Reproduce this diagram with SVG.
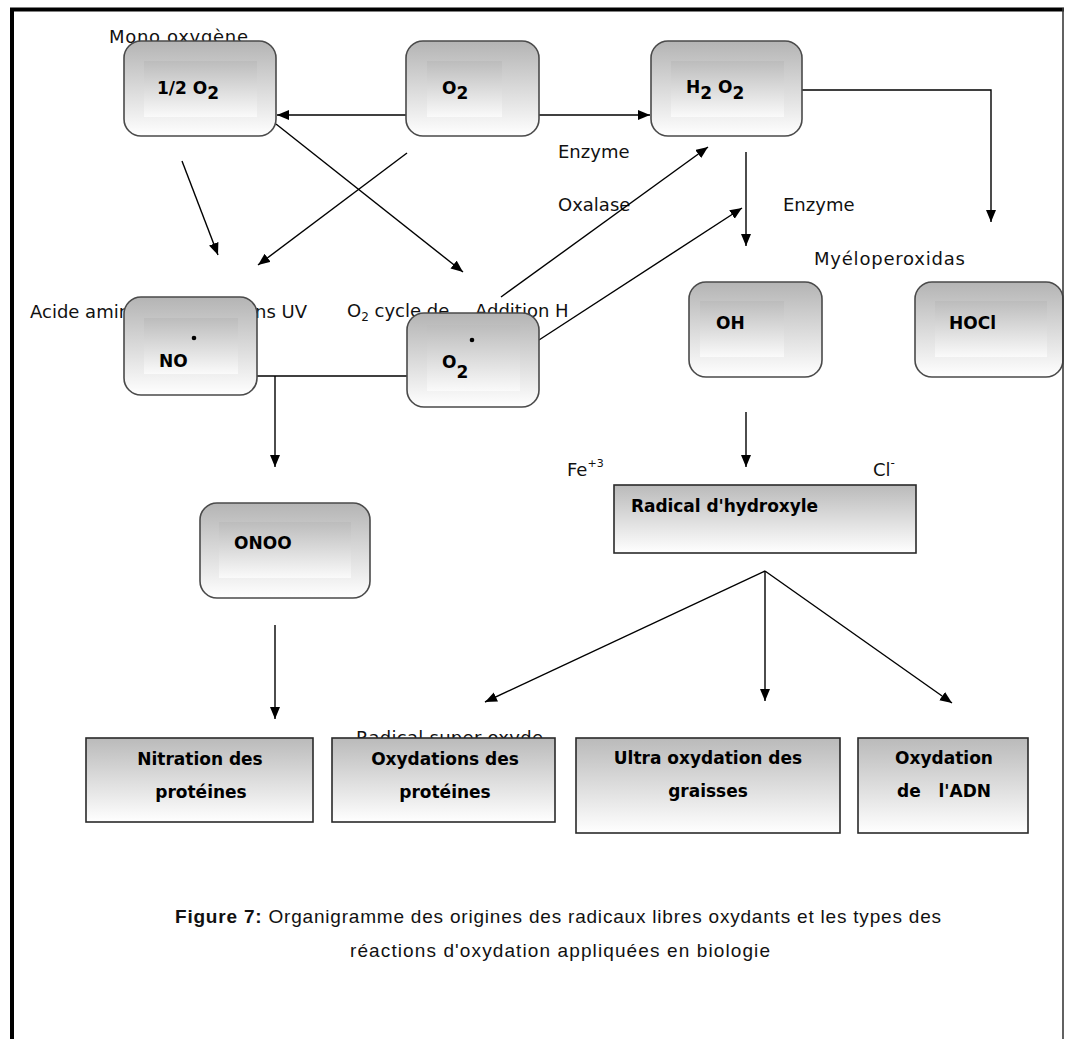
<svg xmlns="http://www.w3.org/2000/svg" width="1065" height="1039" viewBox="0 0 1065 1039">
<defs>
<linearGradient id="gOuter" x1="0" y1="0" x2="0" y2="1">
<stop offset="0" stop-color="#b4b4b4"/><stop offset="1" stop-color="#ffffff"/>
</linearGradient>
<linearGradient id="gInner" x1="0" y1="0" x2="0" y2="1">
<stop offset="0" stop-color="#bcbcbc"/><stop offset="1" stop-color="#fafafa"/>
</linearGradient>
<linearGradient id="gRect" x1="0" y1="0" x2="0" y2="1">
<stop offset="0" stop-color="#bababa"/><stop offset="1" stop-color="#ffffff"/>
</linearGradient>
<marker id="ah" markerUnits="userSpaceOnUse" markerWidth="13" markerHeight="11" refX="12" refY="5" orient="auto">
<path d="M0,0 L12,5 L0,10 Z" fill="#000"/>
</marker>
</defs>
<style>
.rb{fill:url(#gOuter);stroke:#4a4a4a;stroke-width:1.6}
.in{fill:url(#gInner);stroke:none}
.rc{fill:url(#gRect);stroke:#2a2a2a;stroke-width:1.6}
.bl{font-family:"DejaVu Sans",sans-serif;font-weight:bold;font-size:17px;fill:#000}
.lb{font-family:"DejaVu Sans",sans-serif;font-size:18px;fill:#111}
.ct{font-family:"DejaVu Sans",sans-serif;font-weight:bold;font-size:17px;fill:#000;text-anchor:middle}
.cap{font-family:"Liberation Sans",sans-serif;font-size:19px;fill:#111}
.cn{fill:none;stroke:#000;stroke-width:1.4}
.ar{fill:none;stroke:#000;stroke-width:1.4;marker-end:url(#ah)}
</style>
<rect width="1065" height="1039" fill="#fff"/>

<g id="labels">
<text class="lb" x="109" y="43" textLength="139">Mono oxygène</text>
<text class="lb" x="558" y="158">Enzyme</text>
<text class="lb" x="558" y="211">Oxalase</text>
<text class="lb" x="783" y="211">Enzyme</text>
<text class="lb" x="814" y="265" textLength="151">Myéloperoxidas</text>
<text class="lb" x="30" y="318">Acide amin</text>
<text class="lb" x="307" y="318" text-anchor="end">ns UV</text>
<text class="lb" x="347" y="317">O<tspan font-size="12" dy="4">2</tspan><tspan dy="-4"> cycle de</tspan></text>
<text class="lb" x="475" y="317">Addition H</text>
<text class="lb" x="567" y="476">Fe<tspan font-size="11" dy="-9">+3</tspan></text>
<text class="lb" x="873" y="476">Cl<tspan font-size="12" dy="-9">-</tspan></text>
<text class="lb" x="356" y="744" textLength="187">Radical super oxyde</text>
</g>

<g id="connectors">
<line class="ar" x1="406" y1="115" x2="277" y2="115"/>
<line class="ar" x1="539" y1="115" x2="650" y2="115"/>
<line class="ar" x1="182" y1="161" x2="218" y2="255"/>
<line class="ar" x1="407" y1="153" x2="258" y2="265"/>
<line class="ar" x1="276" y1="124" x2="463" y2="272"/>
<line class="ar" x1="501" y1="297" x2="708" y2="147"/>
<line class="ar" x1="539" y1="340" x2="742" y2="208"/>
<polyline class="ar" points="802,90 991,90 991,222"/>
<line class="ar" x1="746" y1="152" x2="746" y2="246"/>
<line class="ar" x1="746" y1="412" x2="746" y2="467"/>
<line class="cn" x1="257" y1="376" x2="407" y2="376"/>
<line class="ar" x1="275" y1="376" x2="275" y2="467"/>
<line class="ar" x1="275" y1="625" x2="275" y2="719"/>
<line class="ar" x1="765" y1="571" x2="485" y2="702"/>
<line class="ar" x1="765" y1="571" x2="765" y2="701"/>
<line class="ar" x1="765" y1="571" x2="952" y2="703"/>
</g>

<g id="n-half-o2">
<rect class="rb" x="124" y="41" width="152" height="95" rx="17"/>
<rect class="in" x="144" y="61" width="113" height="56"/>
<text class="bl" x="157" y="94">1/2 O<tspan dy="5">2</tspan></text>
</g>
<g id="n-o2">
<rect class="rb" x="406" y="41" width="133" height="95" rx="17"/>
<rect class="in" x="427" y="61" width="75" height="56"/>
<text class="bl" x="442" y="94">O<tspan dy="5">2</tspan></text>
</g>
<g id="n-h2o2">
<rect class="rb" x="651" y="41" width="151" height="95" rx="17"/>
<rect class="in" x="671" y="61" width="113" height="56"/>
<text class="bl" x="686" y="93">H<tspan dy="6">2</tspan><tspan dy="-6"> O</tspan><tspan dy="6">2</tspan></text>
</g>
<g id="n-no">
<rect class="rb" x="124" y="297" width="133" height="98" rx="17"/>
<rect class="in" x="144" y="318" width="94" height="56"/>
<text class="bl" x="159" y="367">NO</text>
<circle cx="194" cy="338" r="2.3" fill="#000"/>
</g>
<g id="n-o2-radical">
<rect class="rb" x="407" y="313" width="132" height="94" rx="17"/>
<rect class="in" x="427" y="325" width="93" height="66"/>
<text class="bl" x="442" y="368">O<tspan dy="10">2</tspan></text>
<circle cx="472" cy="340" r="2.3" fill="#000"/>
</g>
<g id="n-oh">
<rect class="rb" x="689" y="282" width="133" height="95" rx="17"/>
<rect class="in" x="700" y="301" width="84" height="56"/>
<text class="bl" x="716" y="329">OH</text>
</g>
<g id="n-hocl">
<rect class="rb" x="915" y="282" width="148" height="95" rx="17"/>
<rect class="in" x="935" y="301" width="112" height="56"/>
<text class="bl" x="949" y="329">HOCl</text>
</g>
<g id="n-onoo">
<rect class="rb" x="200" y="503" width="170" height="95" rx="17"/>
<rect class="in" x="219" y="522" width="132" height="56"/>
<text class="bl" x="234" y="549" font-size="18">ONOO</text>
</g>
<g id="n-radical-hydroxyle">
<rect class="rc" x="614" y="485" width="302" height="68"/>
<text class="bl" x="631" y="512" textLength="187">Radical d'hydroxyle</text>
</g>
<g id="n-nitration">
<rect class="rc" x="86" y="738" width="227" height="84"/>
<text class="ct" x="200" y="765">Nitration des</text>
<text class="ct" x="201" y="798">protéines</text>
</g>
<g id="n-oxyd-proteines">
<rect class="rc" x="332" y="738" width="223" height="84"/>
<text class="ct" x="445" y="765">Oxydations des</text>
<text class="ct" x="445" y="798">protéines</text>
</g>
<g id="n-ultra">
<rect class="rc" x="576" y="738" width="264" height="95"/>
<text class="ct" x="708" y="764">Ultra oxydation des</text>
<text class="ct" x="708" y="797">graisses</text>
</g>
<g id="n-adn">
<rect class="rc" x="858" y="738" width="170" height="95"/>
<text class="ct" x="944" y="764">Oxydation</text>
<text class="ct" x="944" y="797" style="white-space:pre">de   l'ADN</text>
</g>

<g id="caption">
<text class="cap" x="175" y="923" textLength="766"><tspan font-weight="bold">Figure 7:</tspan> Organigramme des origines des radicaux libres oxydants et les types des</text>
<text class="cap" x="350" y="957" textLength="420">réactions d'oxydation appliquées en biologie</text>
</g>

<g id="frame">
<line x1="10" y1="9.5" x2="1064" y2="9.5" stroke="#000" stroke-width="4"/>
<line x1="12" y1="8" x2="12" y2="1039" stroke="#000" stroke-width="4"/>
<line x1="1063" y1="8" x2="1063" y2="1039" stroke="#3a3a3a" stroke-width="1.6"/>
</g>
</svg>
